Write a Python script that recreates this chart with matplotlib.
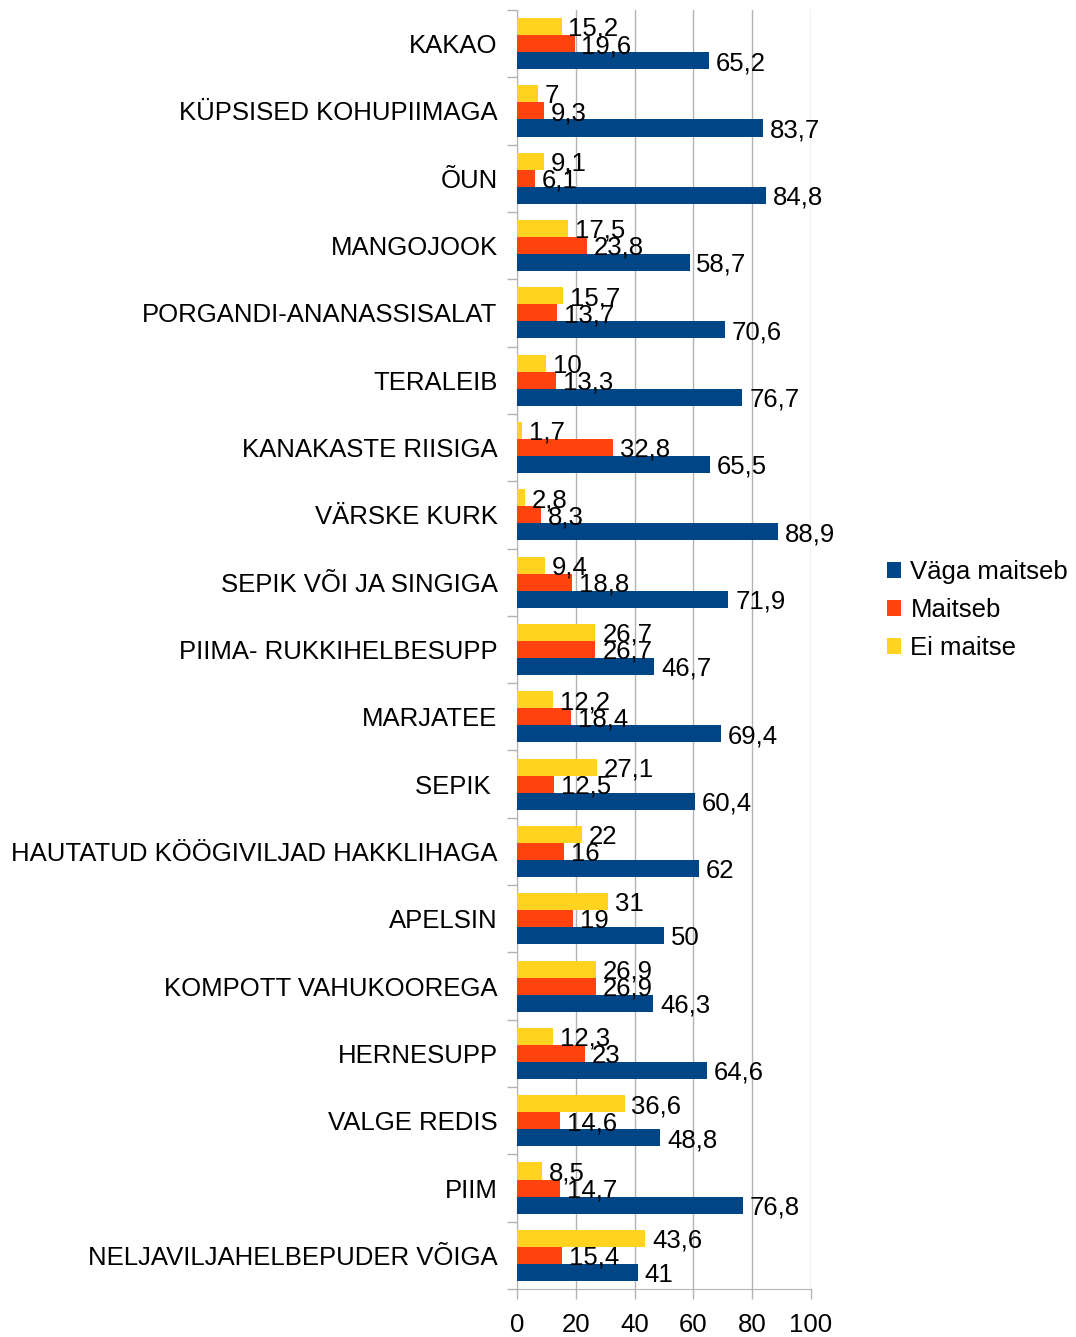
import matplotlib
matplotlib.use("Agg")
import matplotlib.pyplot as plt
from matplotlib.patches import Patch
import numpy as np

plt.rcParams['font.family'] = ['Liberation Sans', 'DejaVu Sans']

# andmed ülevalt alla
categories = [
    "KAKAO", "KÜPSISED KOHUPIIMAGA", "ÕUN", "MANGOJOOK",
    "PORGANDI-ANANASSISALAT", "TERALEIB", "KANAKASTE RIISIGA",
    "VÄRSKE KURK", "SEPIK VÕI JA SINGIGA", "PIIMA- RUKKIHELBESUPP",
    "MARJATEE", "SEPIK ", "HAUTATUD KÖÖGIVILJAD HAKKLIHAGA", "APELSIN",
    "KOMPOTT VAHUKOOREGA", "HERNESUPP", "VALGE REDIS", "PIIM",
    "NELJAVILJAHELBEPUDER VÕIGA",
]
vaga_maitseb = [65.2, 83.7, 84.8, 58.7, 70.6, 76.7, 65.5, 88.9, 71.9, 46.7,
                69.4, 60.4, 62, 50, 46.3, 64.6, 48.8, 76.8, 41]
maitseb = [19.6, 9.3, 6.1, 23.8, 13.7, 13.3, 32.8, 8.3, 18.8, 26.7,
           18.4, 12.5, 16, 19, 26.9, 23, 14.6, 14.7, 15.4]
ei_maitse = [15.2, 7, 9.1, 17.5, 15.7, 10, 1.7, 2.8, 9.4, 26.7,
             12.2, 27.1, 22, 31, 26.9, 12.3, 36.6, 8.5, 43.6]
series_names = ["Väga maitseb", "Maitseb", "Ei maitse"]
colors = ["#004586", "#ff420e", "#ffd320"]
x_ticks = [0, 20, 40, 60, 80, 100]

FS = 18.5


def fmt(v):
    return f"{v:g}".replace(".", ",")


fig = plt.figure(figsize=(10.76, 13.37), dpi=100)
ax = fig.add_axes([517 / 1076, 48 / 1337, 294 / 1076, 1279 / 1337])

n = len(categories)
y = np.arange(n)
h = 0.253
offsets = [h, 0.0, -h]

for vals, off, col in zip([vaga_maitseb, maitseb, ei_maitse], offsets, colors):
    bars = ax.barh(y + off, vals, height=h, color=col, zorder=3)
    for b, v in zip(bars, vals):
        ax.text(b.get_width() + 2.3, b.get_y() + b.get_height() / 2 + 0.035,
                fmt(v), va="center", ha="left", fontsize=FS, color="black",
                zorder=4)

ax.set_xlim(0, 100)
ax.set_ylim(n - 0.5, -0.5)
ax.set_xticks(x_ticks)
ax.set_xticklabels([str(t) for t in x_ticks], fontsize=FS)
ax.set_yticks(y)
ax.set_yticklabels(categories, fontsize=FS)
ax.set_yticks(np.arange(n + 1) - 0.5, minor=True)
ax.tick_params(axis="y", which="major", length=0, pad=14)
ax.tick_params(axis="y", which="minor", length=7, color="#b3b3b3", width=1)
ax.tick_params(axis="x", length=7, color="#b3b3b3", width=1, pad=10)

ax.grid(axis="x", color="#b3b3b3", linewidth=1, zorder=0)
for s in ["top", "right"]:
    ax.spines[s].set_visible(False)
for s in ["left", "bottom"]:
    ax.spines[s].set_color("#b3b3b3")

handles = [Patch(facecolor=c, edgecolor="none") for c in colors]
fig.legend(handles, series_names, loc="center left",
           bbox_to_anchor=(877 / 1076, 1 - 610 / 1337), frameon=False,
           fontsize=FS, handlelength=0.55, handleheight=0.55,
           handletextpad=0.35, labelspacing=0.55, borderaxespad=0)

fig.savefig("out.png", dpi=100)
